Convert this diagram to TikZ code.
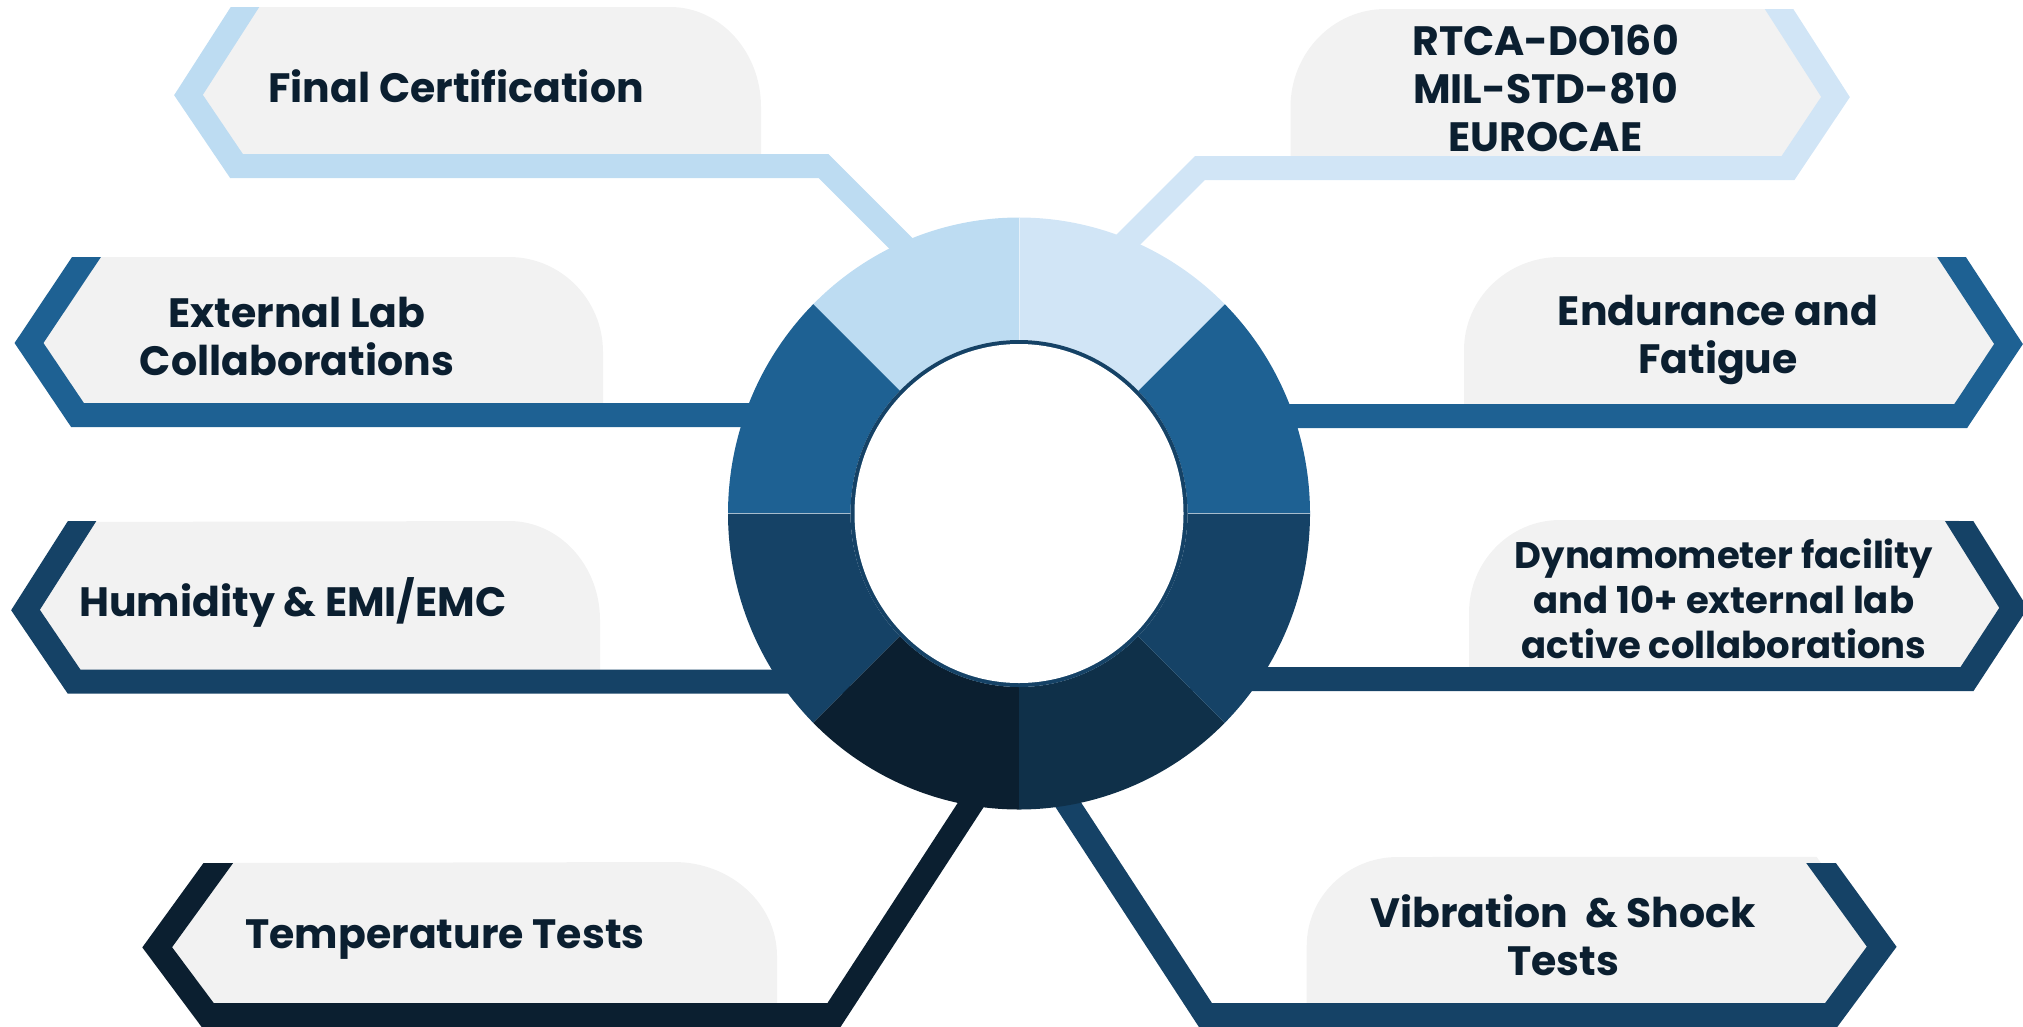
\documentclass[tikz,border=0pt]{standalone}
\usepackage{fontspec}
\setmainfont{Poppins}
\usetikzlibrary{calc}
\definecolor{cA}{HTML}{BDDCF2}
\definecolor{cB}{HTML}{D1E5F6}
\definecolor{cC}{HTML}{1E6193}
\definecolor{cD}{HTML}{154266}
\definecolor{cE}{HTML}{0B1F30}
\definecolor{cF}{HTML}{0F3049}
\definecolor{boxg}{HTML}{F2F2F2}
\definecolor{txt}{HTML}{0B1F30}
\begin{document}
\begin{tikzpicture}[x=1pt,y=-1pt,
  chev/.style={line width=24pt, line join=miter, miter limit=10},
  greybox/.style={fill=boxg},
  lbl/.style={font=\fontsize{41}{48}\selectfont\bfseries, text=txt, align=center, inner sep=0pt}]
\useasboundingbox (0,0) rectangle (2023,1026);
% ---------- key points of the callouts (top end, apex, corner, knee, end in ring)
\coordinate (t1) at (245,7);      \coordinate (a1) at (188.5,95);  \coordinate (b1) at (236.5,166); \coordinate (k1) at (823.5,166); \coordinate (e1) at (950,292.5);
\coordinate (t2) at (1779,9);     \coordinate (a2) at (1835.5,97); \coordinate (b2) at (1788,168);  \coordinate (k2) at (1200,168);  \coordinate (e2) at (1088,280);
\coordinate (t3) at (86.5,257);   \coordinate (a3) at (29,343);    \coordinate (b3) at (77.5,415);  \coordinate (e3) at (820,415);
\coordinate (t4) at (1951.5,257); \coordinate (a4) at (2008.5,344);\coordinate (b4) at (1960.7,416);\coordinate (e4) at (1200,416);
\coordinate (t5) at (81.5,522);   \coordinate (a5) at (25.5,610);  \coordinate (b5) at (74,681.5);  \coordinate (e5) at (850,681.5);
\coordinate (t6) at (1958.5,520); \coordinate (a6) at (2013.5,608);\coordinate (b6) at (1967,679);  \coordinate (e6) at (1190,679);
\coordinate (t7) at (218.3,863);  \coordinate (a7) at (157.2,947.3);\coordinate (b7) at (207.7,1015);\coordinate (k7) at (834,1015); \coordinate (e7) at (1013,740);
\coordinate (t8) at (1820.8,862.7);\coordinate (a8) at (1881.7,946.7);\coordinate (b8) at (1831.2,1015);\coordinate (k8) at (1205.4,1015);\coordinate (e8) at (1026,740);
% ---------- grey boxes
\fill[greybox] (t1) -- (a1) -- (b1) -- (761,166) -- (761,107) arc[start angle=0,end angle=90,x radius=91pt,y radius=100pt] -- cycle;
\fill[greybox] (t2) -- (1385.5,9) arc[start angle=90,end angle=180,x radius=95pt,y radius=98pt] -- (1290.5,168) -- (b2) -- (a2) -- cycle;
\fill[greybox] (t3) -- (a3) -- (b3) -- (603,415) -- (603,352) arc[start angle=0,end angle=90,x radius=94pt,y radius=95pt] -- cycle;
\fill[greybox] (t4) -- (1560,257) arc[start angle=90,end angle=180,x radius=96pt,y radius=93pt] -- (1464,416) -- (b4) -- (a4) -- cycle;
\fill[greybox] (t5) -- (a5) -- (b5) -- (600,681.5) -- (600,620) arc[start angle=0,end angle=90,x radius=91pt,y radius=99pt] -- cycle;
\fill[greybox] (t6) -- (1560,520) arc[start angle=90,end angle=180,x radius=91pt,y radius=93pt] -- (1469,679) -- (b6) -- (a6) -- cycle;
\fill[greybox] (t7) -- (a7) -- (b7) -- (777,1015) -- (777,956) arc[start angle=0,end angle=90,x radius=103pt,y radius=94pt] -- cycle;
\fill[greybox] ($(t8)!-0.07!(a8)$) -- (1397.7,857) arc[start angle=90,end angle=180,x radius=91pt,y radius=89pt] -- (1306.7,1015) -- (b8) -- (a8) -- cycle;
% ---------- chevron outlines and connectors (top ends cut level)
\begin{scope}\clip (-50,7) rectangle (2100,1100);
\draw[chev,cA] ($(t1)!-0.5!(a1)$) -- (t1) -- (a1) -- (b1) -- (k1) -- (e1);
\end{scope}
\begin{scope}\clip (-50,9) rectangle (2100,1100);
\draw[chev,cB] ($(t2)!-0.5!(a2)$) -- (t2) -- (a2) -- (b2) -- (k2) -- (e2);
\end{scope}
\begin{scope}\clip (-50,257) rectangle (2100,1100);
\draw[chev,cC] ($(t3)!-0.5!(a3)$) -- (t3) -- (a3) -- (b3) -- (e3);
\draw[chev,cC] ($(t4)!-0.5!(a4)$) -- (t4) -- (a4) -- (b4) -- (e4);
\end{scope}
\begin{scope}\clip (-50,521) rectangle (2100,1100);
\draw[chev,cD] ($(t5)!-0.5!(a5)$) -- (t5) -- (a5) -- (b5) -- (e5);
\draw[chev,cD] ($(t6)!-0.5!(a6)$) -- (t6) -- (a6) -- (b6) -- (e6);
\end{scope}
\begin{scope}\clip (-50,863) -- (600,863) -- (600,-50) -- (2100,-50) -- (2100,1100) -- (-50,1100) -- cycle;
\draw[chev,cE] ($(t7)!-0.5!(a7)$) -- (t7) -- (a7) -- (b7) -- (k7) -- (e7);
\end{scope}
\begin{scope}\clip (2100,863) -- (1500,863) -- (1500,-50) -- (-50,-50) -- (-50,1100) -- (2100,1100) -- cycle;
\draw[chev,cD] ($(t8)!-0.5!(a8)$) -- (t8) -- (a8) -- (b8) -- (k8) -- (e8);
\end{scope}
% ---------- ring
\begin{scope}[shift={(1019,513.5)}]
\foreach \a/\b/\c in {0/45/cC,45/90/cB,90/135/cA,135/180/cC,180/225/cD,225/270/cE,270/315/cF,315/360/cD}
  \fill[\c] (\a:291pt and 296pt) arc[start angle=\a,end angle=\b,x radius=291pt,y radius=296pt]
     -- (\b:168.5pt and 173.5pt) arc[start angle=\b,end angle=\a,x radius=168.5pt,y radius=173.5pt] -- cycle;
\foreach \a in {0,90,180}
  \draw[white,opacity=0.5,line width=1pt] (\a:168.5pt and 173.5pt) -- (\a:291pt and 296pt);
\fill[cD] (0,0) ellipse[x radius=168.5pt,y radius=173.5pt];
\fill[white] (0,0) ellipse[x radius=164.5pt,y radius=169.5pt];
\end{scope}
% ---------- labels
\node[lbl] (n1) at (456,86) {Final Certification};
\node[lbl] (n2) at (1545.5,88) {RTCA-DO160\\MIL-STD-810\\EUROCAE};
\node[lbl] (n3) at (297,336.5) {External Lab\\Collaborations};
\node[lbl] (n4) at (1718,339.5) {Endurance and\\Fatigue};
\node[lbl] (n5) at (293,602) {Humidity \& EMI/EMC};
\node[lbl,font=\fontsize{37}{45}\selectfont\bfseries] (n6) at (1724,599) {Dynamometer facility\\and 10+ external lab\\active collaborations};
\node[lbl] (n7) at (445,940) {Temperature Tests};
\node[lbl] (n8) at (1563,935) {Vibration\ \ \& Shock\\Tests};
\end{tikzpicture}
\end{document}
